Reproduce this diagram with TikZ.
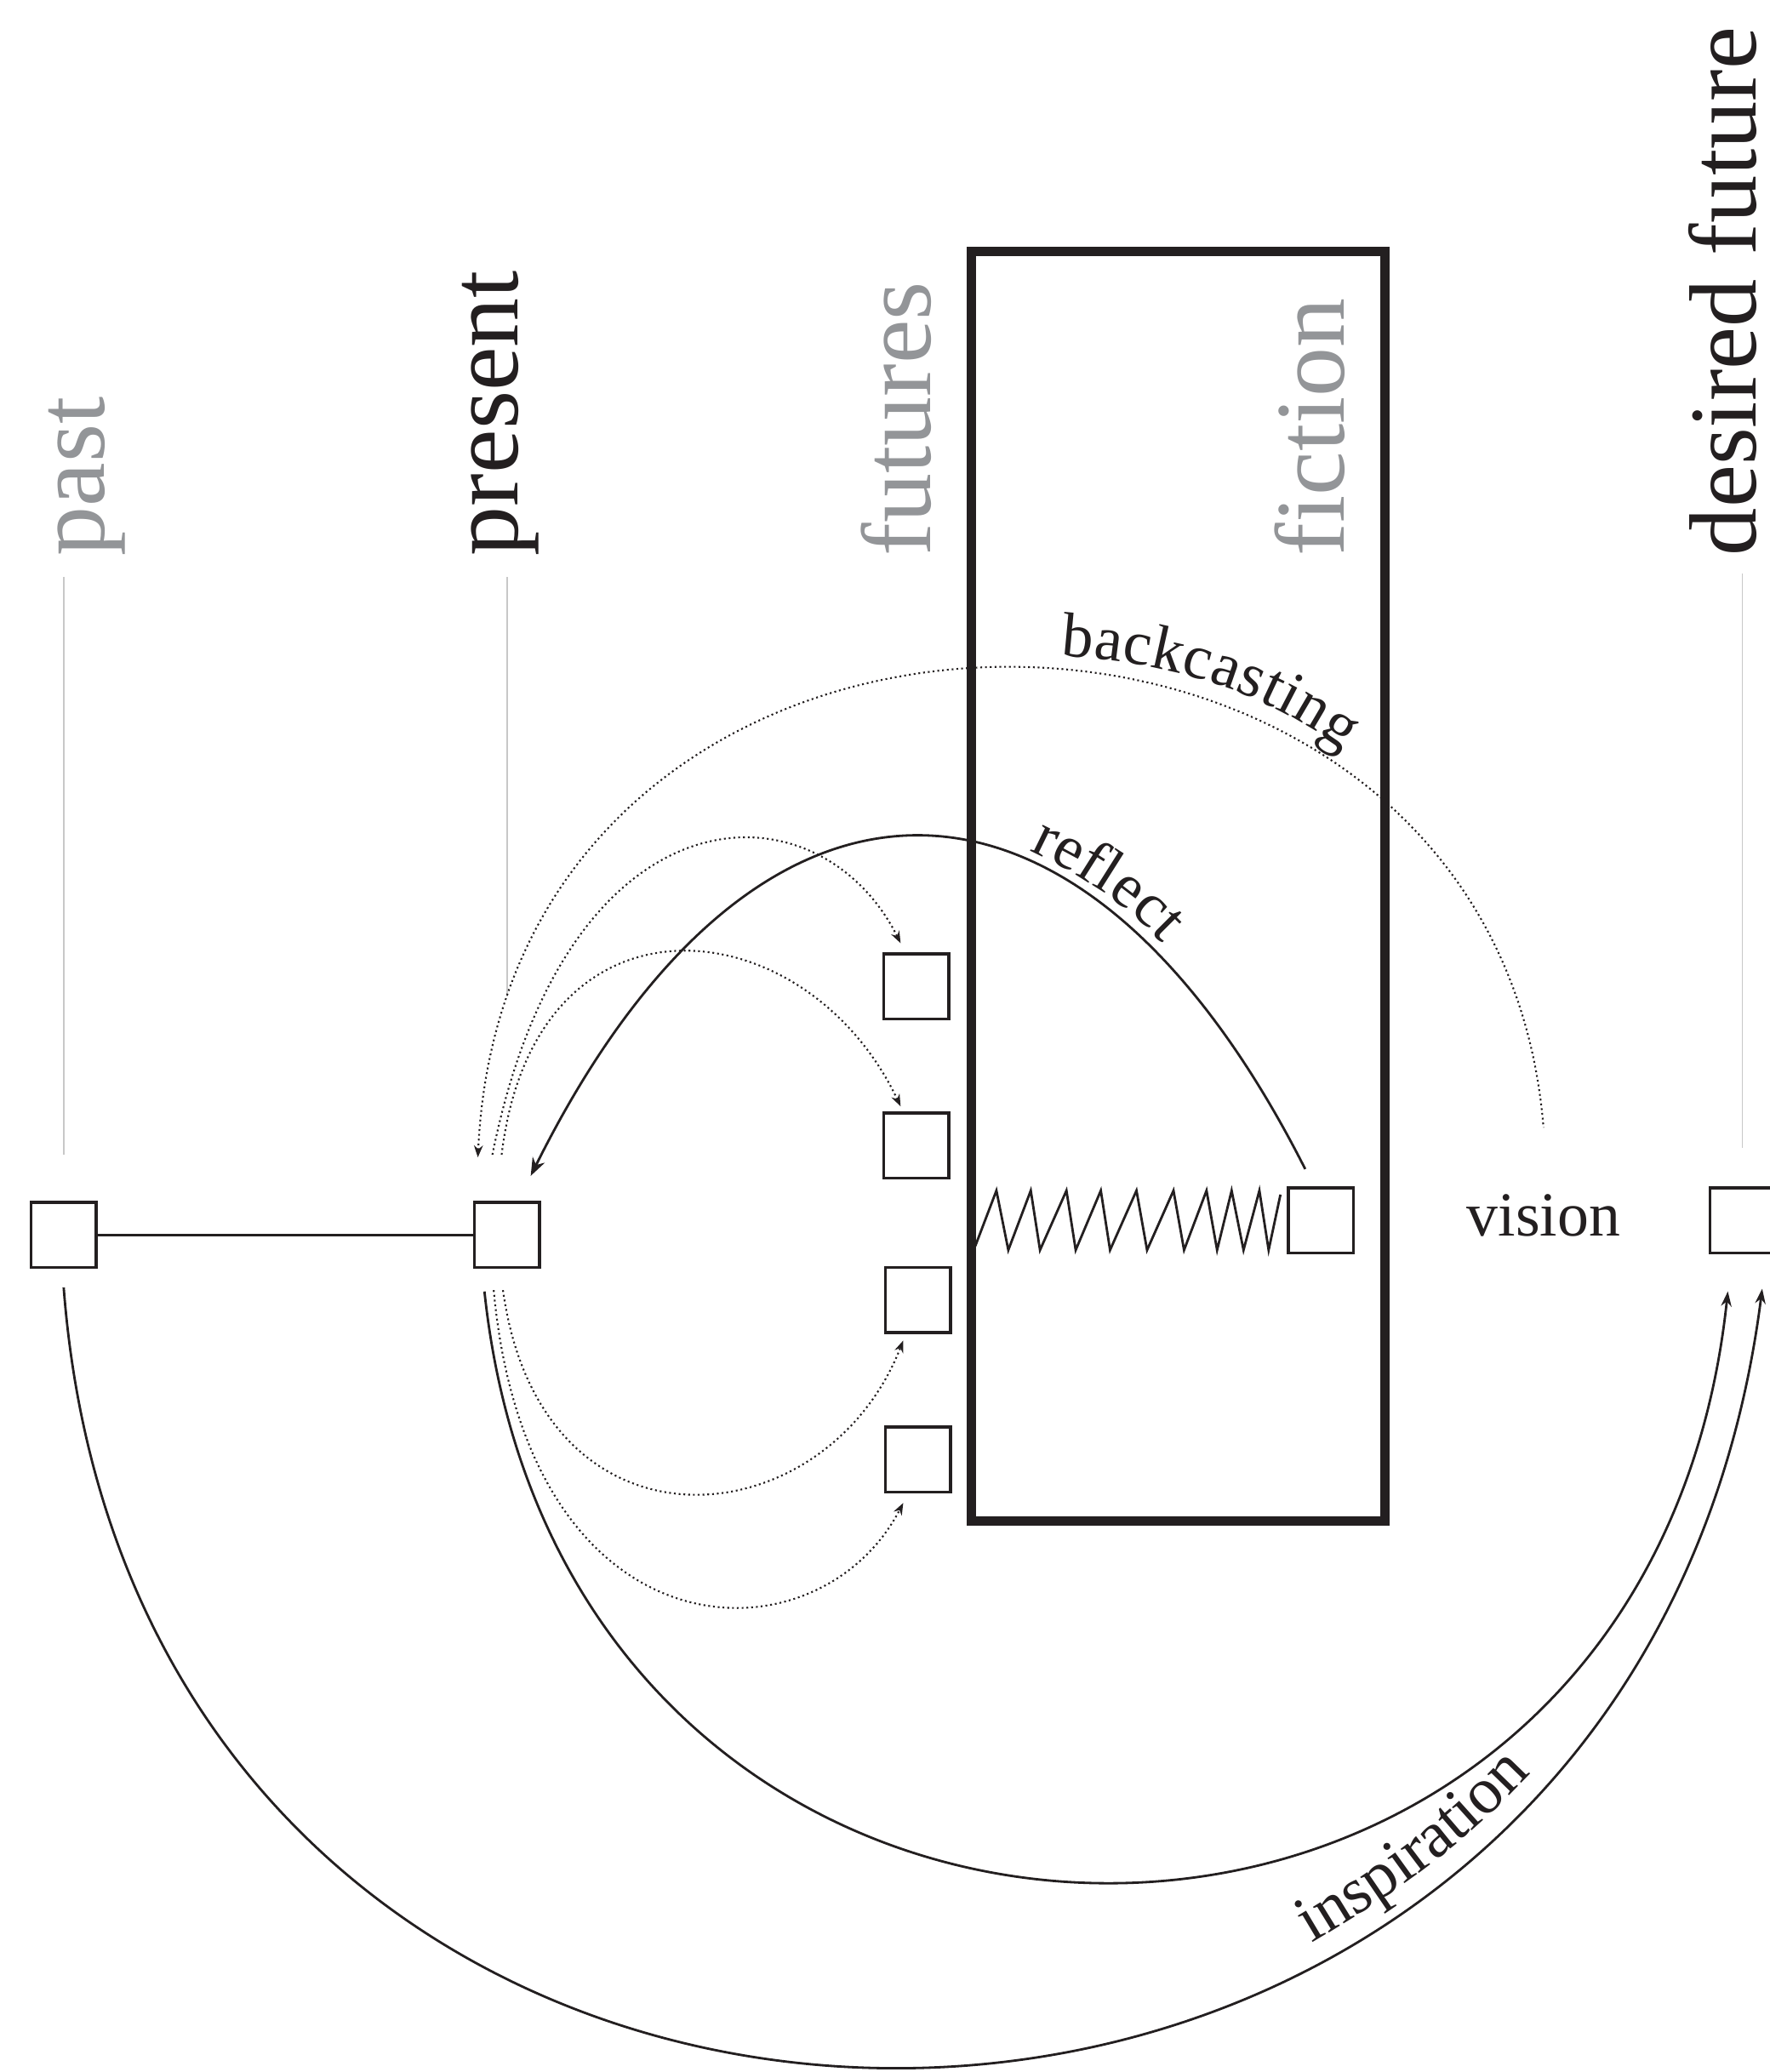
\documentclass[tikz,border=0pt]{standalone}
\usepackage{fontspec}
\setmainfont{Liberation Serif}
\usetikzlibrary{arrows.meta,decorations.text}

\definecolor{ink}{RGB}{35,31,32}
\definecolor{mute}{RGB}{147,149,152}
\definecolor{hair}{RGB}{200,200,200}
\newcommand{\headfont}{\fontsize{33}{40}\selectfont}
\newcommand{\goalfont}{\fontsize{32}{38}\selectfont}
\newcommand{\tagfont}{\fontsize{21}{25}\selectfont}
\newcommand{\inspfont}{\fontsize{22}{26}\selectfont}

\begin{document}
\begin{tikzpicture}[x=0.15534cm, y=0.15534cm,
  sq/.style      ={draw=ink, line width=1pt, minimum size=0.765cm, inner sep=0pt},
  colhead/.style ={font=\headfont, rotate=90, anchor=base west, inner sep=0pt},
  hairline/.style={draw=hair, line width=0.5pt},
  solidarc/.style={draw=ink, line width=0.8pt},
  dotarc/.style  ={draw=ink, line width=0.6pt, densely dotted},
  solidtip/.style={-{Stealth[length=6pt,width=4.5pt]}},
  backtip/.style ={{Stealth[length=4pt,width=3pt]}-},
  dottip/.style  ={-{Stealth[length=4pt,width=3pt]}},
  goaltip/.style ={-{Stealth[length=5pt,width=3.5pt]}},
  arclabel/.style={decorate, decoration={text along path, text color=ink}}]

  \useasboundingbox (0,0) rectangle (133.9,156.8);

  % ---------------- column heads ----------------
  \node[colhead, text=mute] (hpast) at (7.9,114.7)   {past};
  \node[colhead, text=ink]  (hpres) at (39.2,114.7)  {present};
  \node[colhead, text=mute] (hfut)  at (70.4,114.7)  {futures};
  \node[colhead, text=mute] (hfic)  at (101.7,114.7) {fiction};
  \node[colhead, text=ink, font=\goalfont] (hgoal) at (132.9,114.7) {desired future};

  % ---------------- fiction frame ----------------
  \draw[ink, line width=3.2pt] (73.5,41.7) rectangle (104.8,137.75);

  % ---------------- boxes ----------------
  \node[sq] (past)    at (4.82,63.34)  {};
  \node[sq] (present) at (38.36,63.34) {};
  \node[sq] (f1)      at (69.35,82.15) {};
  \node[sq] (f2)      at (69.35,70.10) {};
  \node[sq] (f3)      at (69.45,58.43) {};
  \node[sq] (f4)      at (69.45,46.34) {};
  \node[sq] (vis)     at (99.97,64.45) {};
  \node[sq] (goal)    at (131.85,64.45){};
  \node[font=\tagfont, text=ink, inner sep=0pt, anchor=base] (vision) at (116.8,63.28) {vision};

  % ---------------- guide lines under heads ----------------
  \draw[hairline] (past.north) ++(0,3.5) -- ++(0,43.7);
  \draw[hairline] (present.north) ++(0,15.5) -- ++(0,31.7);
  \draw[hairline] (goal.north) ++(0,2.9) -- ++(0,43.5);

  % ---------------- past -- present ----------------
  \draw[solidarc] (past) -- (present);

  % ---------------- spring inside the frame ----------------
  \draw[solidarc, line join=miter] (73.8,62.5)
    \foreach \t/\b in {75.4/76.3, 78.0/78.7, 80.7/81.4, 83.3/84.0, 86.0/86.8,
                       88.8/89.6, 91.3/92.1, 93.2/94.1, 95.3/96.0}
      { -- (\t,66.7) -- (\b,62.2) }
    -- ([shift={(-0.5,1.95)}]vis.west);

  % ---------------- upper arcs ----------------
  \draw[solidarc, solidtip] ([shift={(-1.2,1.3)}]vis.north)
    .. controls +(-17.0,33.6) and +(17.0,34.2) .. ([shift={(1.8,1.9)}]present.north);
  \draw[dotarc, backtip] ([shift={(-2.2,3.3)}]present.north)
    .. controls +(2.3,49.2) and +(-3.8,46.6) .. ([shift={(0,5.0)}]vision.north);
  \draw[dotarc, dottip] ([shift={(-1.1,3.5)}]present.north)
    .. controls +(5.7,28.4) and +(-6.2,12.4) .. ([shift={(-1.2,0.7)}]f1.north);
  \draw[dotarc, dottip] ([shift={(-0.4,3.5)}]present.north)
    .. controls +(2.5,20.9) and +(-7.2,15.2) .. ([shift={(-1.2,0.4)}]f2.north);

  % ---------------- lower arcs ----------------
  \draw[dotarc, dottip] ([shift={(-0.3,-1.6)}]present.south)
    .. controls +(2.9,-20.9) and +(-5.9,-15.1) .. ([shift={(-1.1,-0.5)}]f3.south);
  \draw[dotarc, dottip] ([shift={(-1.0,-1.6)}]present.south)
    .. controls +(2.6,-28.3) and +(-6.4,-12.4) .. ([shift={(-1.1,-0.7)}]f4.south);
  \draw[solidarc, goaltip] ([shift={(-1.7,-1.7)}]present.south)
    .. controls +(6.3,-59.6) and +(-6.3,-59.6) .. ([shift={(-1.1,-2.8)}]goal.south);
  \draw[solidarc, goaltip] ([shift={(0,-1.4)}]past.south)
    .. controls +(6.0,-78.6) and +(-10.0,-78.6) .. ([shift={(1.5,-2.6)}]goal.south);

  % ---------------- arc labels ----------------
  \path[arclabel, decoration={text={|\tagfont|backcasting}, raise=4pt}]
    (80.2,106.3) to[bend left=20] (107.2,94.1);
  \path[arclabel, decoration={text={|\tagfont|re{fl}ect}, raise=3pt}]
    (77.6,91.8) to[bend left=12] (89.6,82.6);
  \path[arclabel, decoration={text={|\inspfont|inspiration}, raise=4.5pt}]
    (99.8,8.9) to[bend right=10] (121.3,27.3);
\end{tikzpicture}
\end{document}
